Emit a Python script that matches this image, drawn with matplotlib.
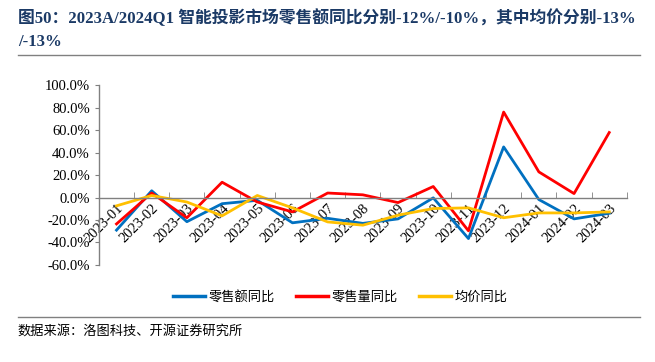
import matplotlib
matplotlib.use("Agg")
import matplotlib.pyplot as plt
from matplotlib.lines import Line2D
from matplotlib.ticker import FuncFormatter, FixedLocator

plt.rcParams['font.family'] = ['Liberation Serif', 'Noto Sans CJK SC', 'DejaVu Sans']

#%% data
months = ["2023-01", "2023-02", "2023-03", "2023-04", "2023-05", "2023-06", "2023-07",
          "2023-08", "2023-09", "2023-10", "2023-11", "2023-12", "2024-01", "2024-02", "2024-03"]
sales_amount = [-29, 6, -21.5, -5.5, -2.5, -22.5, -18.5, -23, -19, -0.3, -36.5, 45, -1.8, -19, -14]
sales_volume = [-23.5, 4, -18, 13.6, -4, -12.8, 4, 2.4, -4.5, 9.8, -29.6, 76, 22.8, 3.5, 57.8]
avg_price = [-7.4, 1.8, -4, -16.3, 1.8, -9.2, -21.7, -24.6, -15.7, -9.8, -9.2, -18, -13.7, -13.7, -12.8]

series_names = ["零售额同比", "零售量同比", "均价同比"]
colors = ["#0070C0", "#FF0000", "#FFC000"]

title = "图50：2023A/2024Q1 智能投影市场零售额同比分别-12%/-10%，其中均价分别-13%\n/-13%"
source = "数据来源：洛图科技、开源证券研究所"

#%% plot
fig = plt.figure(figsize=(6.55, 3.62), dpi=100)
ax = fig.add_axes([0.151, 0.268, 0.806, 0.497])

x = list(range(len(months)))
for vals, name, c in zip([sales_amount, sales_volume, avg_price], series_names, colors):
    ax.plot(x, vals, color=c, lw=2.0, label=name)

ax.set_xlim(-0.5, len(months) - 0.5)
ax.set_ylim(-60, 100)
ax.set_yticks(range(-60, 101, 20))
ax.yaxis.set_major_formatter(FuncFormatter(lambda v, p: f"{v:.1f}%"))

ax.spines['bottom'].set_position(('data', 0))
ax.spines['top'].set_visible(False)
ax.spines['right'].set_visible(False)
for s in ['bottom', 'left']:
    ax.spines[s].set_color('#808080')
    ax.spines[s].set_linewidth(1.0)

ax.set_xticks(x)
ax.set_xticklabels(months, rotation=45, ha='right', va='top', rotation_mode='anchor')
ax.xaxis.set_minor_locator(FixedLocator([i + 0.5 for i in range(-1, len(months))]))
ax.tick_params(axis='x', which='major', length=0, labelsize=10.5, pad=3)
ax.tick_params(axis='x', which='minor', length=4, direction='in', color='#808080')
ax.tick_params(axis='y', length=3, direction='out', color='#808080', labelsize=10.5)

fig.legend(handles=[Line2D([0], [0], color=c, lw=2.5) for c in colors], labels=series_names,
           loc='center', bbox_to_anchor=(0.52, 0.178), ncol=3, frameon=False,
           handlelength=2.4, columnspacing=1.6, handletextpad=0.3,
           prop={'family': ['Noto Sans CJK SC'], 'size': 9.5})

fig.text(0.027, 0.975, title, fontsize=12.1, fontweight='bold', color='#1B3A66',
         va='top', ha='left', linespacing=1.6)
fig.add_artist(Line2D([0.027, 0.977], [0.848, 0.848], color='#808080', lw=1.0))
fig.add_artist(Line2D([0.027, 0.977], [0.124, 0.124], color='#808080', lw=1.0))
fig.text(0.027, 0.085, source, fontsize=9.5, family=['Noto Sans CJK SC'], va='center', ha='left')

plt.savefig("out.png", dpi=100)
